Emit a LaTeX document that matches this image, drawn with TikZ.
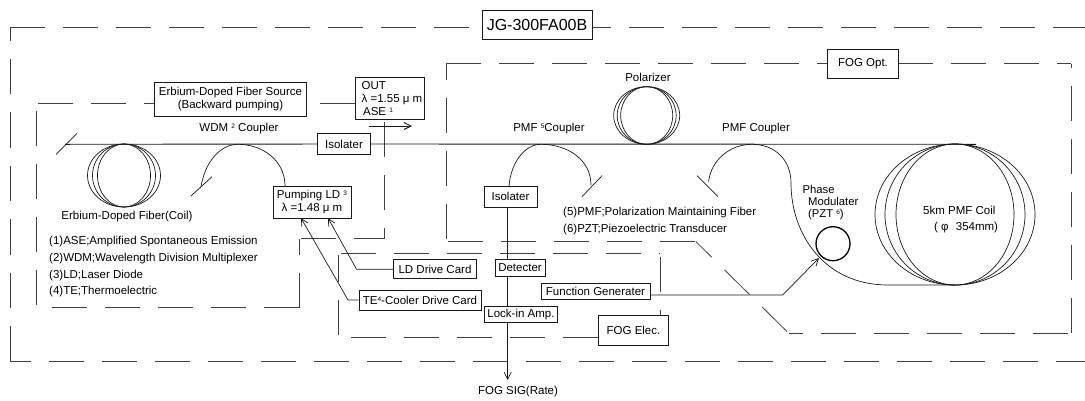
\documentclass[tikz,border=0pt]{standalone}
\usepackage{fontspec}
\setmainfont{Liberation Sans}
\usetikzlibrary{arrows.meta}
\tikzset{
  ln/.style={line width=0.7pt,black!90},
  fib/.style={line width=0.9pt,black!90},
  dsh/.style={line width=0.8pt,black!75,dash pattern=on 35 off 18},
  box/.style={draw=black!90,line width=0.8pt,fill=white,inner sep=0pt,align=center,font=\fontsize{11.5}{13}\selectfont},
  lbl/.style={inner sep=0pt,align=left,font=\fontsize{11.5}{13}\selectfont},
  arr/.style={ln,-{Straight Barb[length=7pt,width=7pt]}},
}
\newcommand{\sps}[1]{\raisebox{0.5ex}{\fontsize{6.5}{7}\selectfont #1}}
\begin{document}
\begin{tikzpicture}[x=1pt,y=-1pt]
\useasboundingbox (0,0) rectangle (1085,400);
% outer enclosure
\draw[dsh] (10,27.7) -- (482,27.7);
\draw[dsh,dash phase=16] (592,27.7) -- (1085,27.7);
\draw[dsh,dash pattern=on 35.5 off 18] (10,361.7) -- (10,27.7);
\draw[dsh,dash phase=14] (10,361.7) -- (1085,361.7);
% erbium source enclosure
\draw[dsh] (38,103.7) -- (154,103.7);
\draw[dsh] (320,103.7) -- (356,103.7);
\draw[dsh] (36.5,305) -- (36.5,111);
\draw[dsh] (299,307.7) -- (50,307.7);
\draw[dsh] (299,307.7) -- (299,238.7);
\draw[dsh] (301,238.7) -- (384.5,238.7);
\draw[dsh] (384.5,122) -- (384.5,238.7);
% FOG opt enclosure
\draw[dsh] (446,63.3) -- (828,63.3);
\draw[dsh] (898,63.3) -- (1071,63.3);
\draw[dsh] (1071,333) -- (1071,64);
\draw[dsh,dash phase=18] (446,63.3) -- (446,241.7);
\draw[dsh] (1068,333) -- (788.5,333);
\draw[dsh,dash phase=13] (696,241.7) -- (788.5,333);
\draw[dsh] (695,241.7) -- (446,241.7);
% FOG elec enclosure
\draw[dsh] (341,253) -- (660,253);
\draw[dsh] (660,257) -- (660,316);
\draw[dsh] (338,335) -- (338,255);
\draw[dsh] (598,337.3) -- (351,337.3);
% title and section boxes
\node[box,minimum width=110pt,minimum height=29.3pt,font=\fontsize{16}{18}\selectfont] (title) at (537,24.7) {JG-300FA00B};
\node[box,minimum width=152.5pt,minimum height=33.6pt] (src) at (230.5,99.5) {Erbium-Doped Fiber Source\\(Backward pumping)};
\node[box,minimum width=68.5pt,minimum height=41.6pt,align=left] (out) at (389.7,98.3) {\hspace{4.5pt}OUT\\\hspace{4.5pt}λ =1.55 μ m\\\hspace{6pt}ASE \sps{1}};
\node[box,minimum width=70.5pt,minimum height=29.4pt] (fogopt) at (863,64) {FOG Opt.};
\node[box,minimum width=70.5pt,minimum height=29.3pt] (fogelec) at (633.5,330.3) {FOG Elec.};
% fibre
\coordinate (fl) at (65,144.3);
\coordinate (fr) at (976,144.3);
\node[box,minimum width=52.5pt,minimum height=21.5pt] (iso) at (344,144) {Isolater};
\draw[fib] (fl) -- (iso);
\draw[fib] (iso) -- (fr);
\coordinate (t1a) at (56,154.3); \coordinate (t1b) at (77,133.3);
\draw[ln] (t1a) -- (t1b);
% erbium coil
\coordinate (ec) at (124,175.5);
\foreach \r in {36.5,31.5,26.5} \draw[ln] (ec) ellipse ({\r} and 31.5);
% polarizer
\coordinate (pc) at (646.7,115.5);
\foreach \r in {33,29.5,26} \draw[ln] (pc) ellipse ({\r} and 28.8);
% big coil
\coordinate (bc) at (955,214.5);
\foreach \r in {80,70,59} \draw[ln] (bc) ellipse ({\r} and 70.5);
% pumping LD
\node[box,minimum width=78pt,minimum height=32pt] (pump) at (312,202) {Pumping LD \sps{3}\\λ =1.48 μ m};
% WDM coupler
\coordinate (w1) at (201,186.7);
\coordinate (wt) at (238,144.3);
\coordinate (t2a) at (191,196); \coordinate (t2b) at (212,176.7);
\draw[ln] (w1) .. controls (205,162) and (220,144.3) .. (wt) .. controls (262,144.3) and (285,160) .. (285,186);
\draw[ln] (t2a) -- (t2b);
% signal chain
\node[box,minimum width=53pt,minimum height=21pt] (iso2) at (510.5,196.5) {Isolater};
\node[box,minimum width=50pt,minimum height=17.7pt] (det) at (520,267.8) {Detecter};
\node[box,minimum width=73pt,minimum height=16.3pt] (lock) at (521,314.2) {Lock-in Amp.};
\node[box,minimum width=83pt,minimum height=19pt] (ldc) at (435,269.2) {LD Drive Card};
\node[box,minimum width=122pt,minimum height=20pt] (tec) at (420,300) {TE\sps{4}-Cooler Drive Card};
\node[box,minimum width=109pt,minimum height=16pt] (fg) at (595.5,291) {Function Generater};
\coordinate (sig) at (507.7,380);
\draw[ln] (sig |- iso2.south) -- (sig |- det.north);
\draw[ln] (sig |- det.south) -- (sig |- lock.north);
\draw[arr] (sig |- lock.south) -- (sig);
\node[lbl] (siglab) at (518,391.7) {FOG SIG(Rate)};
% PMF couplers
\coordinate (p1) at (509,186);
\draw[ln] (p1) .. controls (511,162) and (525,144.3) .. (541,144.3) .. controls (568,144.3) and (591,160) .. (591,185);
\coordinate (t3a) at (582,196.7); \coordinate (t3b) at (602,175.7);
\draw[ln] (t3a) -- (t3b);
\draw[ln] (708.6,181.7) .. controls (711,160) and (730,144.3) .. (752,144.3) .. controls (775,144.3) and (791,160) .. (791,183) .. controls (791,235) and (825,285) .. (888,285) -- (955,285);
\coordinate (t4a) at (697,175.7); \coordinate (t4b) at (718,196.7);
\draw[ln] (t4a) -- (t4b);
% phase modulator
\node[circle,draw=black,line width=1.3pt,minimum size=34pt,inner sep=0pt] (pm) at (833,243.7) {};
% drive lines
\coordinate (a1) at (328,218); \coordinate (k1) at (356.5,269.2);
\coordinate (a2) at (301,218); \coordinate (k2) at (348,300);
\coordinate (k3) at (782.7,295); \coordinate (a3) at (819,258);
\draw[arr] (ldc.west) -- (k1) -- (a1);
\draw[arr] (tec.west) -- (k2) -- (a2);
\draw[arr] (fg.east |- k3) -- (k3) -- (a3);
% output arrow
\coordinate (o1) at (368.5,126); \coordinate (o2) at (412,126);
\draw[arr,line width=1pt] (o1) -- (o2);
% labels
\node[lbl] (l1) at (239,129) {WDM \sps{2} Coupler};
\node[lbl] (l2) at (549,129) {PMF \sps{5}Coupler};
\node[lbl] (l3) at (756,129) {PMF Coupler};
\node[lbl] (l4) at (648,77.7) {Polarizer};
\node[lbl] (l5) at (127,216.7) {Erbium-Doped Fiber(Coil)};
\node[lbl,anchor=west,font=\fontsize{11.5}{16.7}\selectfont] (l6) at (49,266.8) {(1)ASE;Amplified Spontaneous Emission\\(2)WDM;Wavelength Division Multiplexer\\(3)LD;Laser Diode\\(4)TE;Thermoelectric};
\node[lbl,anchor=west,font=\fontsize{11.5}{16.7}\selectfont] (l7) at (563,221) {(5)PMF;Polarization Maintaining Fiber\\(6)PZT;Piezoelectric Transducer};
\node[lbl,anchor=west,font=\fontsize{11.3}{12.2}\selectfont] (l8) at (802.4,202.7) {Phase\\\hspace{5.5pt}Modulater\\\hspace{5.5pt}(PZT \sps{6})};
\node[lbl,anchor=west] (l9) at (923,210.7) {5km PMF Coil};
\node[lbl,anchor=west] (l10) at (934,227.3) {( φ\hspace{4pt} 354mm)};
\end{tikzpicture}
\end{document}
